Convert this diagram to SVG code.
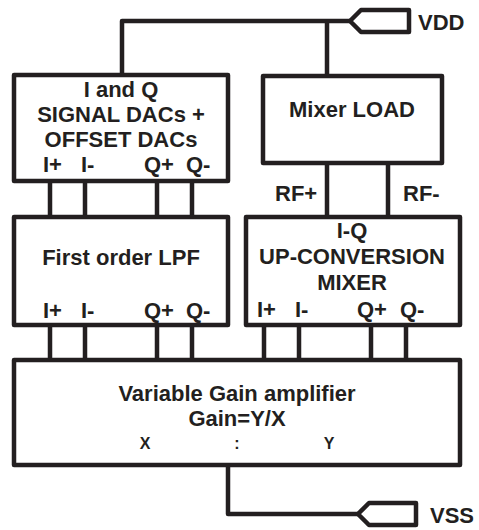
<svg xmlns="http://www.w3.org/2000/svg" width="479" height="530" viewBox="0 0 479 530">
<style>
.box{fill:#fff;stroke:#231f20;stroke-width:4.5;stroke-linejoin:round}
.w{fill:none;stroke:#231f20;stroke-width:4.5;stroke-linejoin:round}
text{font-family:"Liberation Sans",Arial,sans-serif;font-weight:bold;font-size:22px;fill:#231f20}
.c{text-anchor:middle}
.s{font-size:16px}
</style>
<rect width="479" height="530" fill="#fff"/>
<g id="connectors">
<path class="w" d="M122,75 V21 H350 M327,21 V76"/>
<path class="w" d="M327,163 V217 M388,163 V217"/>
<path class="w" d="M50,181 V217 M85,181 V217 M157,181 V217 M192,181 V217"/>
<path class="w" d="M50,325 V360 M85,325 V360 M157,325 V360 M192,325 V360"/>
<path class="w" d="M264,325 V360 M299,325 V360 M371,325 V360 M406,325 V360"/>
<path class="w" d="M228,465 V514 H358"/>
<text x="275" y="201">RF+</text>
<text x="403" y="201">RF-</text>
</g>
<g id="vdd">
<polygon class="box" points="350,21 361,10 409,10 409,32 361,32"/>
<text x="418" y="30">VDD</text>
</g>
<g id="vss">
<polygon class="box" points="358,514 369,503 416,503 416,525 369,525"/>
<text x="430" y="523">VSS</text>
</g>
<g id="dac">
<rect class="box" x="14" y="75" width="214" height="106"/>
<text class="c" x="121" y="97">I and Q</text>
<text class="c" x="121" y="122">SIGNAL DACs +</text>
<text class="c" x="121" y="147">OFFSET DACs</text>
<text x="43" y="172">I+</text><text x="81" y="172">I-</text><text x="144" y="172">Q+</text><text x="186" y="172">Q-</text>
</g>
<g id="mixer-load">
<rect class="box" x="263" y="76" width="179" height="87"/>
<text class="c" x="352" y="117">Mixer LOAD</text>
</g>
<g id="lpf">
<rect class="box" x="14" y="217" width="214" height="108"/>
<text class="c" x="121" y="265">First order LPF</text>
<text x="43" y="318">I+</text><text x="81" y="318">I-</text><text x="144" y="318">Q+</text><text x="186" y="318">Q-</text>
</g>
<g id="mixer">
<rect class="box" x="246" y="217" width="214" height="108"/>
<text class="c" x="352" y="238">I-Q</text>
<text class="c" x="352" y="264">UP-CONVERSION</text>
<text class="c" x="352" y="290">MIXER</text>
<text x="257" y="317">I+</text><text x="295" y="317">I-</text><text x="357" y="317">Q+</text><text x="400" y="317">Q-</text>
</g>
<g id="vga">
<rect class="box" x="14" y="360" width="446" height="105"/>
<text class="c" x="237" y="401">Variable Gain amplifier</text>
<text class="c" x="237" y="426">Gain=Y/X</text>
<text class="c s" x="145" y="449">X</text>
<text class="c s" x="237" y="449">:</text>
<text class="c s" x="329" y="449">Y</text>
</g>
</svg>
